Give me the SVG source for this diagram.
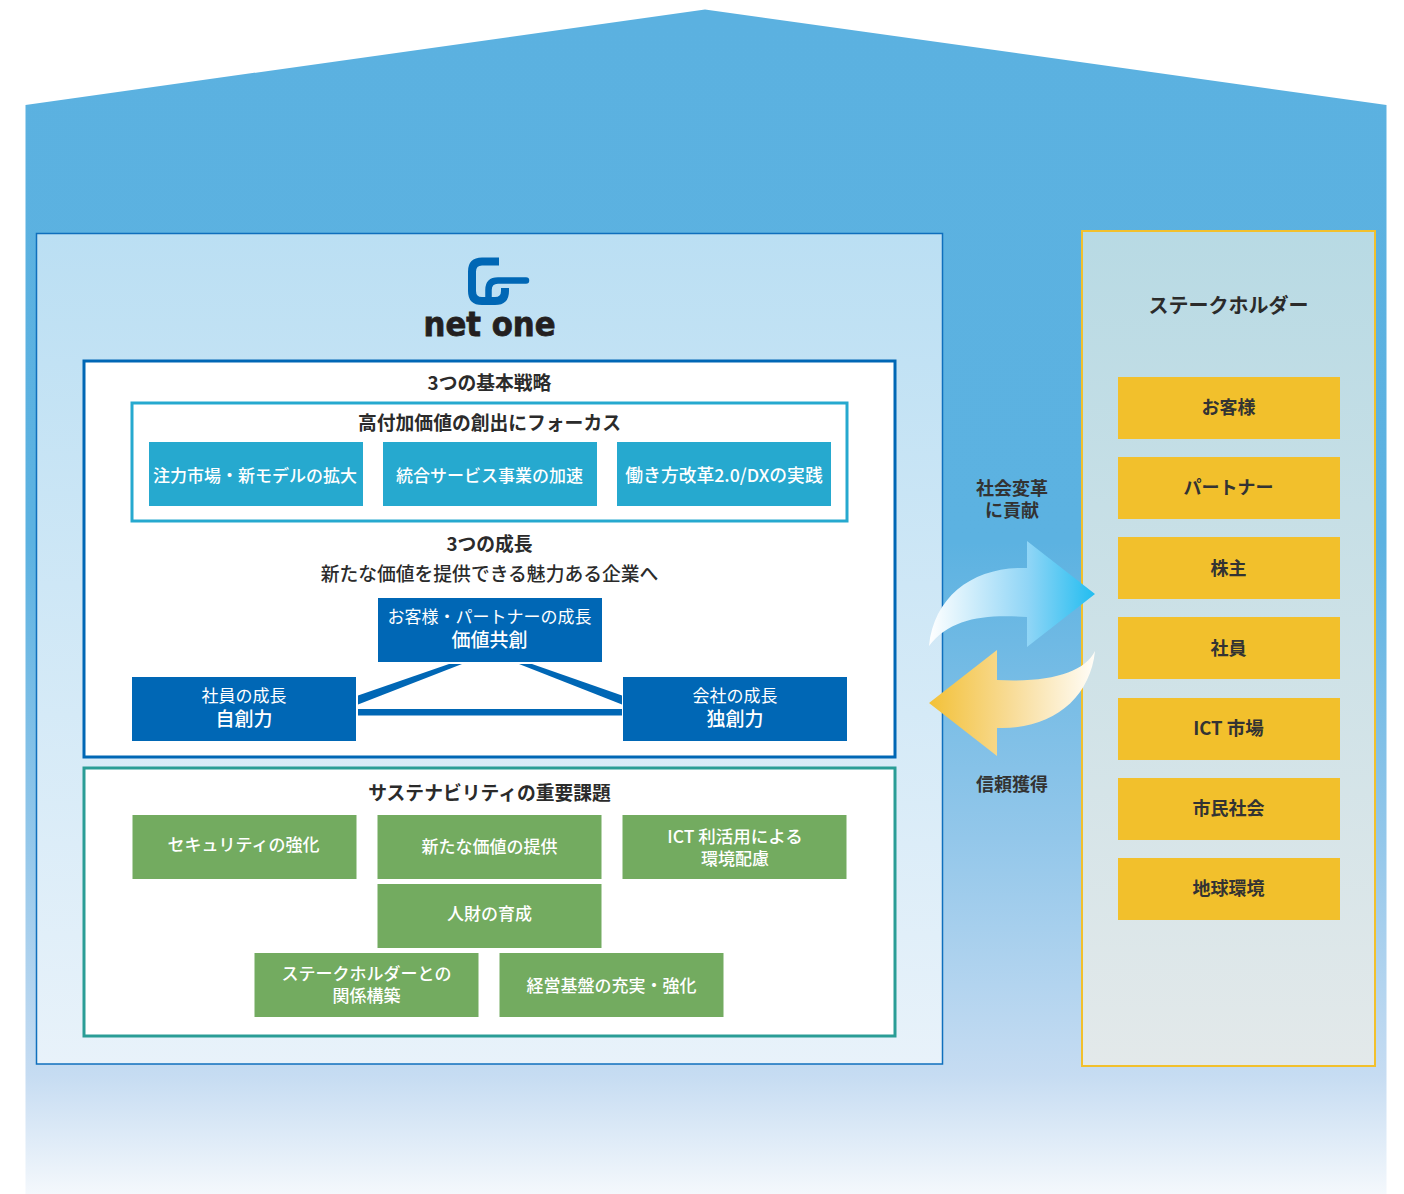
<svg xmlns="http://www.w3.org/2000/svg" width="1404" height="1194" viewBox="0 0 1404 1194">
<style>
text{font-family:"Noto Sans CJK JP","Noto Sans",sans-serif;text-anchor:middle;font-weight:500;font-size:18px;fill:#333}
.h{font-size:18.800px;font-weight:700;fill:#2b2b2b}
.m{font-size:18.800px;font-weight:500;fill:#2b2b2b}
.w{fill:#fff;font-size:17px;font-weight:400}
.w2{fill:#fff;font-size:19px;font-weight:500}
.g{fill:#fff;font-size:17px;font-weight:500}
.t{fill:#fff;font-size:17px;font-weight:500}
.y{font-size:18px;font-weight:700;fill:#333}
.c{fill:#26a9cf}.b{fill:#0067b5}.gr{fill:#73ab60}.ye{fill:#f2c02c}
</style>
<defs>
<linearGradient id="bg" x1="0" y1="0" x2="0" y2="1"><stop offset="0" stop-color="#5bb1e0"/><stop offset=".45" stop-color="#5cb2e1"/><stop offset=".7" stop-color="#93c7ea"/><stop offset=".9" stop-color="#c6dcf2"/><stop offset="1" stop-color="#f4f8fc"/></linearGradient>
<linearGradient id="pl" x1="0" y1="0" x2="0" y2="1"><stop offset="0" stop-color="#bbdff3"/><stop offset="1" stop-color="#e8f2fa"/></linearGradient>
<linearGradient id="pr" x1="0" y1="0" x2="0" y2="1"><stop offset="0" stop-color="#b8dae4"/><stop offset="1" stop-color="#e3e9ea"/></linearGradient>
<linearGradient id="a1" gradientUnits="userSpaceOnUse" x1="929" y1="0" x2="1095" y2="0"><stop offset="0" stop-color="#fff"/><stop offset=".6" stop-color="#8fd5f6"/><stop offset="1" stop-color="#22bdf0"/></linearGradient>
<linearGradient id="a2" gradientUnits="userSpaceOnUse" x1="929" y1="0" x2="1095" y2="0"><stop offset="0" stop-color="#f3c138"/><stop offset=".5" stop-color="#f8dc98"/><stop offset="1" stop-color="#fffdf8"/></linearGradient>
</defs>
<path id="house" d="M25.500 105L705 9.500L1386.500 105V1194H25.500Z" fill="url(#bg)"/>
<rect id="panel-left" x="36.500" y="233.500" width="906" height="830.500" fill="url(#pl)" stroke="#0f6fbd" stroke-width="1.500"/>
<rect id="panel-right" x="1082" y="231" width="293" height="835" fill="url(#pr)" stroke="#f2c02c" stroke-width="2"/>
<g id="logo">
<path d="M499 261.500H482Q472 261.500 472 271.500V291Q472 301 482 301H495Q505 301 505 291V288" fill="none" stroke="#0067b5" stroke-width="8"/>
<path d="M526 280.500H498Q488.500 280.500 488.500 290V300" fill="none" stroke="#0067b5" stroke-width="6.500" stroke-linecap="round"/>
<text x="489.500" y="336" style="font-family:'DejaVu Sans',sans-serif;font-weight:700;font-size:33px;fill:#231f20;stroke:#231f20;stroke-width:.8" textLength="132" lengthAdjust="spacingAndGlyphs">net one</text>
</g>
<g id="strategy">
<rect x="84" y="361" width="811" height="396" fill="#fff" stroke="#0067b5" stroke-width="3"/>
<text class="h" x="489.500" y="390">3つの基本戦略</text>
</g>
<g id="focus">
<rect x="132" y="403" width="715" height="118" fill="#fff" stroke="#26a9cf" stroke-width="3"/>
<text class="h" x="489.500" y="430">高付加価値の創出にフォーカス</text>
</g>
<g id="f1"><rect class="c" x="149" y="442" width="214" height="64"/><text class="t" x="255" y="482">注力市場・新モデルの拡大</text></g>
<g id="f2"><rect class="c" x="383" y="442" width="214" height="64"/><text class="t" x="489.500" y="482">統合サービス事業の加速</text></g>
<g id="f3"><rect class="c" x="617" y="442" width="214" height="64"/><text class="t" x="724" y="482" style="font-size:17.800px">働き方改革2.0/DXの実践</text></g>
<g id="growth-title">
<text class="h" x="489.500" y="551">3つの成長</text>
<text class="m" x="489.500" y="580.500">新たな価値を提供できる魅力ある企業へ</text>
</g>
<g id="connectors" fill="#0067b5">
<path d="M358 695.500L449 664H462L358 704.500Z"/>
<path d="M519 664H532L622 695.500V704.500Z"/>
<rect x="358" y="709" width="264" height="6.500"/>
</g>
<g id="g1"><rect class="b" x="378" y="598" width="224" height="64"/><text class="w" x="489.500" y="623">お客様・パートナーの成長</text><text class="w2" x="489.500" y="647">価値共創</text></g>
<g id="g2"><rect class="b" x="132" y="677" width="224" height="64"/><text class="w" x="244" y="702">社員の成長</text><text class="w2" x="244" y="726">自創力</text></g>
<g id="g3"><rect class="b" x="623" y="677" width="224" height="64"/><text class="w" x="735" y="702">会社の成長</text><text class="w2" x="735" y="726">独創力</text></g>
<g id="sustain">
<rect x="84" y="768" width="811" height="268" fill="#fff" stroke="#2a9d96" stroke-width="3"/>
<text class="h" x="489.500" y="800">サステナビリティの重要課題</text>
</g>
<g id="s1"><rect class="gr" x="132.500" y="815" width="224" height="64"/><text class="g" x="243.500" y="851">セキュリティの強化</text></g>
<g id="s2"><rect class="gr" x="377.500" y="815" width="224" height="64"/><text class="g" x="489.500" y="853">新たな価値の提供</text></g>
<g id="s3"><rect class="gr" x="622.500" y="815" width="224" height="64"/><text class="g" x="735" y="843" style="font-size:17.500px">ICT 利活用による</text><text class="g" x="735" y="865">環境配慮</text></g>
<g id="s4"><rect class="gr" x="377.500" y="884" width="224" height="64"/><text class="g" x="489.500" y="920">人財の育成</text></g>
<g id="s5"><rect class="gr" x="254.500" y="953" width="224" height="64"/><text class="g" x="366.500" y="980">ステークホルダーとの</text><text class="g" x="366.500" y="1002">関係構築</text></g>
<g id="s6"><rect class="gr" x="499.500" y="953" width="224" height="64"/><text class="g" x="611.500" y="992">経営基盤の充実・強化</text></g>
<g id="arrows">
<path d="M929 646C934 595 975 566 1027 568V541L1095 594L1027 647V617C985 614 950 618 929 646Z" fill="url(#a1)"/>
<path d="M1095 651C1090 700 1050 730 997 728V756L929 703L997 650V680C1050 683 1085 672 1095 651Z" fill="url(#a2)"/>
<text class="y" x="1012" y="495">社会変革</text>
<text class="y" x="1012" y="517">に貢献</text>
<text class="y" x="1012" y="791">信頼獲得</text>
</g>
<g id="stakeholders"><text x="1228.500" y="312.500" style="font-size:20px;font-weight:700;fill:#2b2b2b">ステークホルダー</text></g>
<g id="k1"><rect class="ye" x="1118" y="377" width="222" height="62"/><text class="y" x="1228.500" y="414">お客様</text></g>
<g id="k2"><rect class="ye" x="1118" y="457" width="222" height="62"/><text class="y" x="1228.500" y="494">パートナー</text></g>
<g id="k3"><rect class="ye" x="1118" y="537" width="222" height="62"/><text class="y" x="1228.500" y="575">株主</text></g>
<g id="k4"><rect class="ye" x="1118" y="617" width="222" height="62"/><text class="y" x="1228.500" y="655">社員</text></g>
<g id="k5"><rect class="ye" x="1118" y="698" width="222" height="62"/><text class="y" x="1228.500" y="735" style="font-size:18.500px">ICT 市場</text></g>
<g id="k6"><rect class="ye" x="1118" y="778" width="222" height="62"/><text class="y" x="1228.500" y="815">市民社会</text></g>
<g id="k7"><rect class="ye" x="1118" y="858" width="222" height="62"/><text class="y" x="1228.500" y="895">地球環境</text></g>
</svg>
